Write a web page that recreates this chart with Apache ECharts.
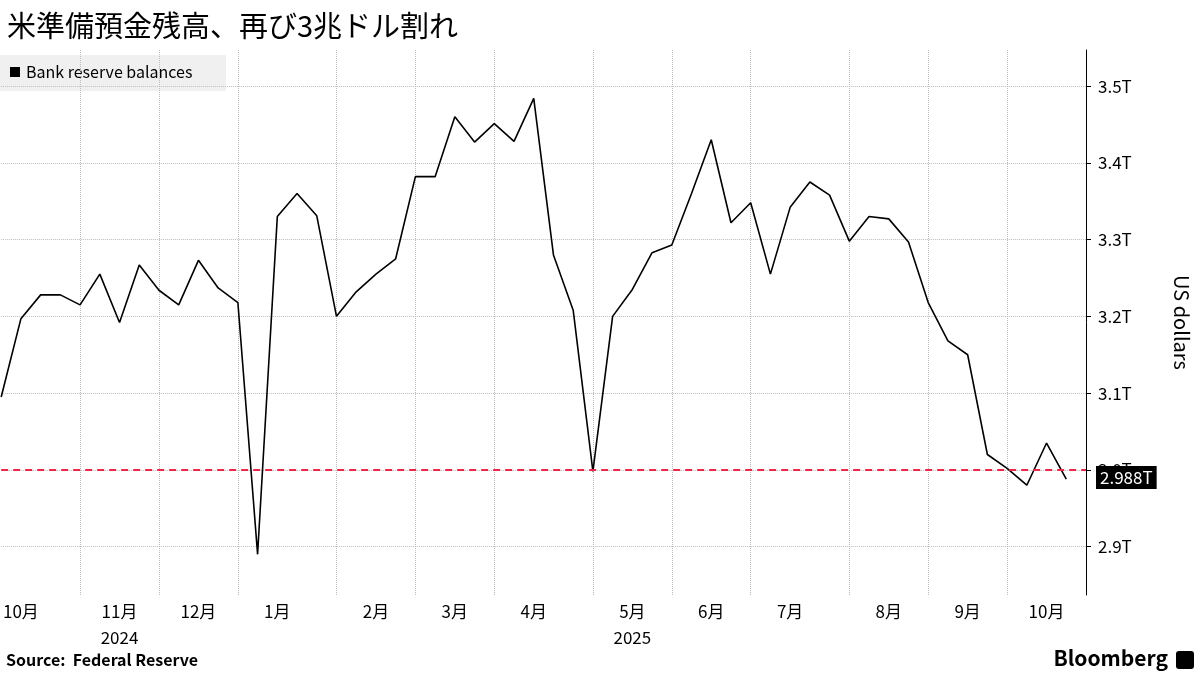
<!DOCTYPE html>
<html><head><meta charset="utf-8">
<script src="https://cdn.jsdelivr.net/npm/echarts@6/dist/echarts.min.js"></script>
<style>body{margin:0}#main{width:1200px;height:675px}</style>
</head><body><div id="main"></div>
<script>
// weekly reserve balances, trillions USD
var values = [3.095,3.197,3.228,3.228,3.215,3.255,3.192,3.267,3.234,3.215,3.273,3.237,3.218,2.890,3.330,3.360,3.331,3.200,3.232,3.255,3.275,3.382,3.382,3.460,3.427,3.451,3.428,3.484,3.280,3.208,2.998,3.200,3.235,3.283,3.293,3.360,3.430,3.322,3.348,3.255,3.342,3.375,3.358,3.298,3.330,3.327,3.297,3.218,3.168,3.150,3.020,3.002,2.980,3.035,2.988];
// month boundaries (week index) and month label positions
var monthStarts = [4,8,12,17,21,25,30,34,38,43,47,51];
var monthLabels = {1:'10月',6:'11月\n2024',10:'12月',14:'1月',19:'2月',23:'3月',27:'4月',32:'5月\n2025',36:'6月',40:'7月',45:'8月',49:'9月',53:'10月'};
var yTicks = [2.9, 3.0, 3.1, 3.2, 3.3, 3.4, 3.5];
var refLine = 2.998;
var lastVal = 2.988;

var cats = [];
for (var i = 0; i <= values.length; i++) cats.push(String(i));

var myChart = echarts.init(document.getElementById('main'));
var font = '"Noto Sans CJK JP", "Noto Sans", sans-serif';
option = {
    animation: false,
    textStyle: {fontFamily: font},
    title: {
        text: '米準備預金残高、再び3兆ドル割れ',
        left: 2, top: 6,
        textStyle: {fontSize: 29, fontWeight: 'normal', color: '#000', fontFamily: font}
    },
    graphic: [
        {type: 'rect', left: 0, top: 55, shape: {width: 226, height: 36}, style: {fill: '#f0f0f0'}},
        {type: 'rect', left: 10, top: 67, shape: {width: 10, height: 10}, style: {fill: '#000'}},
        {type: 'text', left: 26, top: 64, style: {text: 'Bank reserve balances', fontSize: 16, fill: '#000', fontFamily: font}},
        {type: 'text', left: 6, top: 652, style: {text: 'Source:  Federal Reserve', fontSize: 16, fontWeight: 'bold', fill: '#000', fontFamily: font}},
        {type: 'text', right: 32, top: 648, style: {text: 'Bloomberg', fontSize: 21, fontWeight: 'bold', fill: '#000', fontFamily: font}},
        {type: 'rect', right: 6, top: 651, shape: {width: 18, height: 18, r: 3}, style: {fill: '#000'}}
    ],
    grid: {left: 0, right: 113, top: 50, bottom: 80},
    xAxis: {
        type: 'category',
        data: cats,
        boundaryGap: false,
        axisLine: {show: false},
        axisTick: {show: false},
        axisLabel: {
            interval: function (i) { return monthLabels[i] !== undefined; },
            formatter: function (v) { return monthLabels[+v] || ''; },
            fontSize: 17, color: '#000', lineHeight: 26, margin: 4
        },
        splitLine: {
            show: true,
            interval: function (i) { return monthStarts.indexOf(i) >= 0; },
            lineStyle: {color: '#bbb', type: 'dotted'}
        }
    },
    yAxis: {
        type: 'value',
        position: 'right',
        min: 2.837, max: 3.547,
        name: 'US dollars',
        nameLocation: 'middle',
        nameRotate: -90,
        nameGap: 86,
        nameTextStyle: {fontSize: 20, color: '#000'},
        axisLine: {show: true, lineStyle: {color: '#000'}},
        axisTick: {show: true, length: 5, customValues: yTicks, lineStyle: {color: '#000'}},
        axisLabel: {
            fontSize: 17, color: '#000', margin: 12,
            customValues: yTicks,
            formatter: function (v) { return v.toFixed(1) + 'T'; }
        },
        splitLine: {lineStyle: {color: '#bbb', type: 'dotted'}}
    },
    series: [{
        name: 'Bank reserve balances',
        type: 'line',
        data: values,
        symbol: 'none',
        lineStyle: {color: '#000', width: 1.6},
        markLine: {
            silent: true,
            symbol: 'none',
            data: [
                {yAxis: refLine, lineStyle: {color: '#e8294a', type: [7, 5], width: 2}, label: {show: false}},
                {yAxis: lastVal, lineStyle: {color: 'rgba(0,0,0,0)', width: 1}, label: {
                    show: true, position: 'end', distance: 10,
                    formatter: lastVal.toFixed(3) + 'T',
                    backgroundColor: '#000', color: '#fff', fontSize: 17, padding: [3, 4]
                }}
            ]
        }
    }]
};
myChart.setOption(option);
</script></body></html>
